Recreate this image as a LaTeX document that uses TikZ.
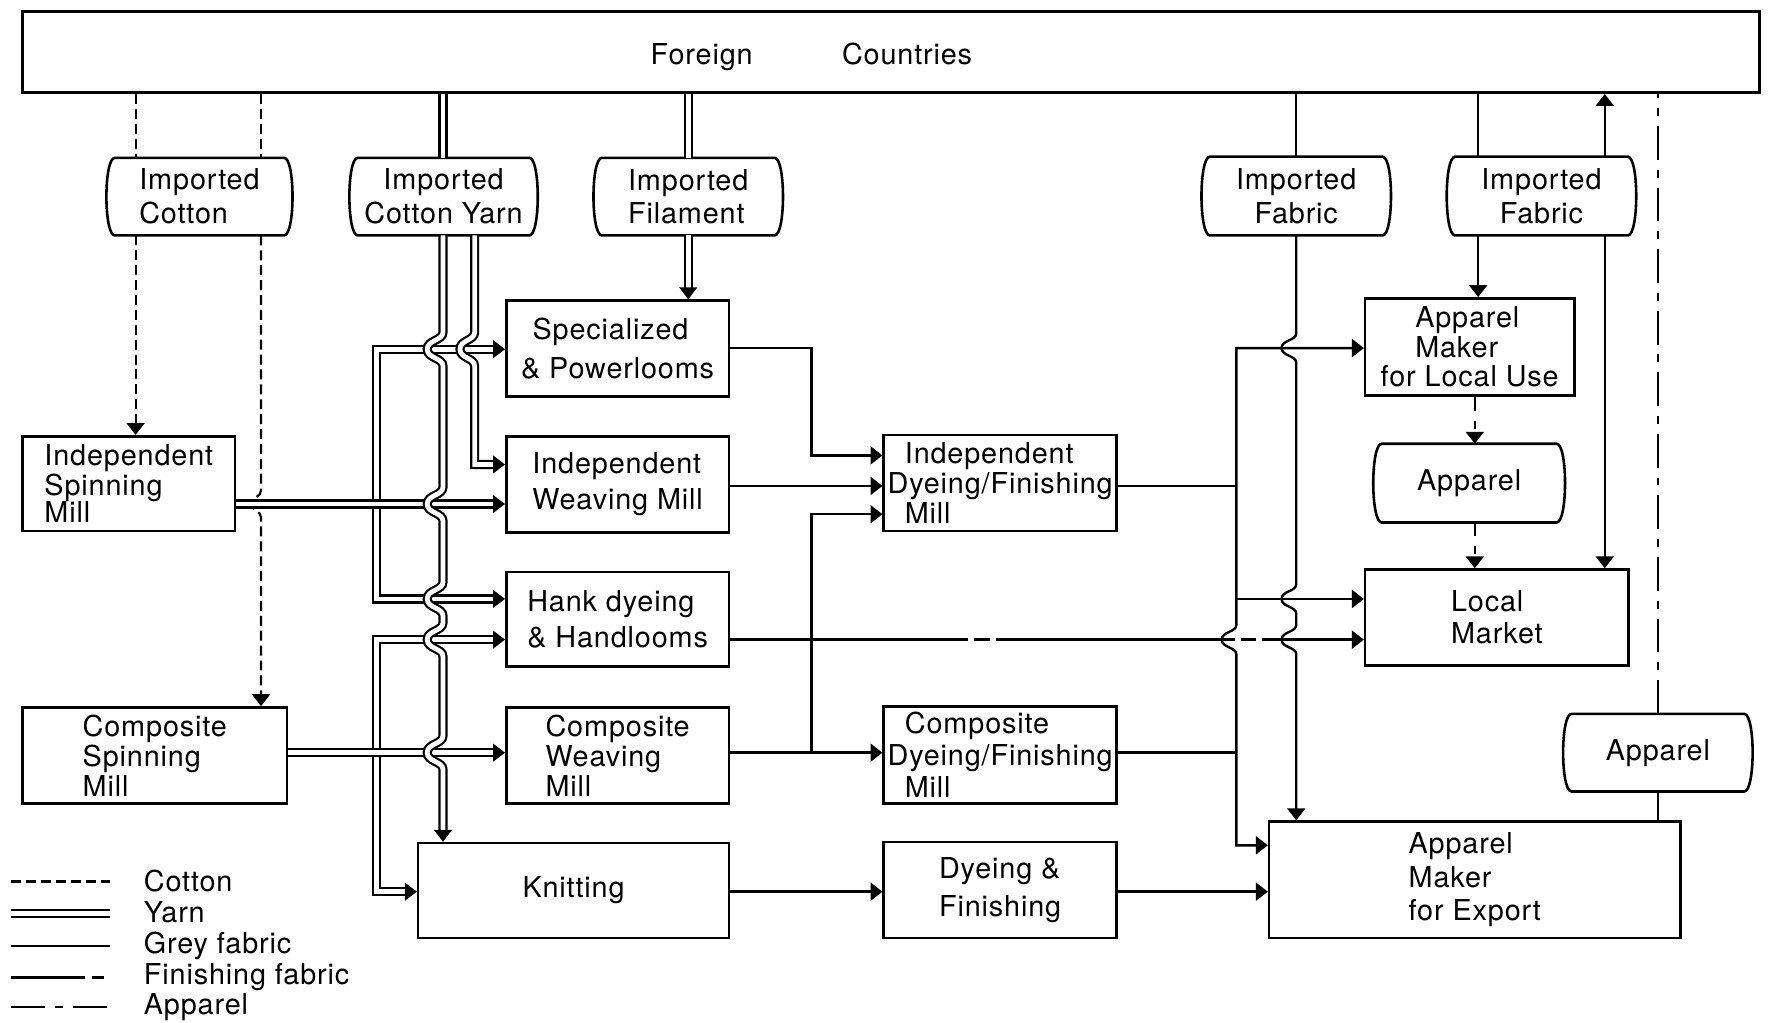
\documentclass[tikz,border=0pt]{standalone}
\usepackage{fontspec}
\setmainfont[LetterSpace=3]{TeX Gyre Heros}
\usetikzlibrary{arrows.meta}
\newcommand{\hopv}[4]{-- (#1,#2-#4) .. controls (#1,#2-0.5*#4) and (#1-#3,#2-0.55*#4) .. (#1-#3,#2) .. controls (#1-#3,#2+0.55*#4) and (#1,#2+0.5*#4) .. (#1,#2+#4)}
\newcommand{\mkbox}[6]{\pgfmathsetmacro{\myw}{(#4-#2)*0.02}\pgfmathsetmacro{\myh}{(#5-#3)*0.02}%
  \node[boxs, minimum width=\myw cm, minimum height=\myh cm] (#1) at ({(#2+#4)/2},{(#3+#5)/2}) {#6};}
\newcommand{\mkbarrel}[7]{\pgfmathsetmacro{\myw}{(#5-#3-14)*0.02}\pgfmathsetmacro{\myh}{(#6-#4)*0.02}%
  \node[labs, align=#2, minimum width=\myw cm, minimum height=\myh cm] (#1) at ({(#3+#5)/2},{(#4+#6)/2}) {#7};%
  \draw[line width=1.3pt] (#1.north west) -- (#1.north east)
    .. controls ([xshift=0.2cm]#1.north east) and ([xshift=0.2cm]#1.south east) .. (#1.south east)
    -- (#1.south west)
    .. controls ([xshift=-0.2cm]#1.south west) and ([xshift=-0.2cm]#1.north west) .. cycle;}
\begin{document}
\begin{tikzpicture}[x=0.02cm, y=-0.02cm,
  every node/.style={font=\fontsize{14.5}{15}\selectfont},
  boxs/.style={draw, line width=1.3pt, inner sep=1pt, align=left},
  labs/.style={inner sep=0pt, align=left},
  arr/.style={-{Triangle[length=6pt,width=9pt]}},
  arrs/.style={{Triangle[length=6pt,width=9pt]}-{Triangle[length=6pt,width=9pt]}},
  cotf/.style={line width=1.1pt, dash pattern=on 5pt off 2.5pt},
  yarnf/.style={double, double distance=2.4pt, line width=1.1pt},
  greyf/.style={line width=1.2pt},
  finf/.style={line width=1.2pt, dash pattern=on 37pt off 3.5pt on 6pt off 3.5pt},
  finlong/.style={line width=1.2pt, dash pattern=on 120pt off 3pt on 8pt off 3pt},
  appf/.style={line width=1.2pt, dash pattern=on 17pt off 5pt on 4pt off 5pt},
  tipR/.pic={\fill (0,0) -- (-10.5,-8) -- (-10.5,8) -- cycle;},
  tipD/.pic={\fill (0,0) -- (-8,-10.5) -- (8,-10.5) -- cycle;}]
\useasboundingbox (0,0) rectangle (1568,905);

% ---------- boxes ----------
\mkbox{FC}{20}{10}{1557}{82}{}
\node[labs] (FCt) at (718,50) {Foreign\hspace{45pt}Countries};
\mkbox{ISM}{20}{386}{208}{470}{Independent\\Spinning\\[-1.5pt]Mill}
\mkbox{CSM}{20}{626}{254}{711}{Composite\\Spinning\\Mill}
\mkbox{SP}{448}{266}{645}{351}{\hspace*{0.4em}Specialized\\[4.5pt]\& Powerlooms}
\mkbox{IWM}{448}{386}{645}{471}{Independent\\[3pt]Weaving Mill}
\mkbox{HK}{448}{506}{645}{590}{Hank dyeing\\[3pt]\& Handlooms}
\mkbox{CWM}{448}{626}{645}{711}{Composite\\Weaving\\Mill}
\mkbox{KN}{370}{746}{645}{830}{Knitting}
\mkbox{IDFM}{782}{385}{988}{470}{\hspace*{0.6em}Independent\\Dyeing/Finishing\\\hspace*{0.6em}Mill}
\mkbox{CDFM}{782}{625}{988}{711}{\hspace*{0.6em}Composite\\[1pt]Dyeing/Finishing\\[1pt]\hspace*{0.6em}Mill}
\mkbox{DF}{782}{745}{988}{830}{Dyeing \&\\[4pt]Finishing}
\mkbox{AL}{1208}{264}{1393}{350}{\hspace*{1.2em}Apparel\\\hspace*{1.2em}Maker\\for Local Use}
\mkbox{LM}{1208}{504}{1441}{589}{Local\\[1pt]Market}
\mkbox{AE}{1123}{727}{1487}{830}{Apparel\\[2pt]Maker\\[2pt]for Export}

% ---------- barrels ----------
\mkbarrel{IC}{left}{95}{140}{258}{208}{Imported\\[2pt]Cotton}
\mkbarrel{ICY}{center}{310}{140}{475}{208}{Imported\\[2pt]Cotton Yarn}
\mkbarrel{IF}{left}{526}{140}{692}{208}{Imported\\[2pt]Filament}
\mkbarrel{IFa}{center}{1064}{139}{1230}{208}{Imported\\[2pt]Fabric}
\mkbarrel{IFb}{center}{1281}{139}{1447}{208}{Imported\\[2pt]Fabric}
\mkbarrel{APa}{center}{1216}{393}{1384}{462}{Apparel}
\mkbarrel{APb}{center}{1384}{632}{1550}{700}{Apparel}

% ---------- cotton ----------
\draw[cotf] (120,0 |- FC.south) -- (120,0 |- IC.north);
\draw[cotf] (231,0 |- FC.south) -- (231,0 |- IC.north);
\draw[cotf, arr] (120,0 |- IC.south) -- (120,0 |- ISM.north);
\draw[cotf, arr] (231,0 |- IC.south) \hopv{231}{446}{8}{12} -- (231,0 |- CSM.north);

% ---------- yarn ----------
\draw[yarnf] (392,0 |- FC.south) -- (392,0 |- ICY.north);
\draw[yarnf] (609,0 |- FC.south) -- (609,0 |- IF.north);
\draw[yarnf, shorten >=4pt] (609,0 |- IF.south) -- (609,0 |- SP.north);
\draw[yarnf, shorten <=4pt, shorten >=4pt] (SP.west |- 0,309) -- (333,309) -- (333,530) -- (HK.west |- 0,530);
\draw[yarnf, shorten <=4pt, shorten >=4pt] (HK.west |- 0,566) -- (333,566) -- (333,789) -- (KN.west |- 0,789);
\draw[yarnf, shorten >=4pt] (ISM.east |- 0,446) -- (IWM.west |- 0,446);
\draw[yarnf, shorten >=4pt] (CSM.east |- 0,666) -- (CWM.west |- 0,666);
\draw[yarnf, shorten >=4pt] (392,0 |- ICY.south) \hopv{392}{309}{14}{15} \hopv{392}{446}{14}{15}
  \hopv{392}{530}{14}{15} \hopv{392}{566}{14}{15} \hopv{392}{666}{14}{15} -- (392,0 |- KN.north);
\draw[yarnf, shorten >=4pt] (420,0 |- ICY.south) \hopv{420}{309}{13}{15} -- (420,411) -- (IWM.west |- 0,411);
\pic at (SP.west |- 0,309) {tipR};
\pic at (IWM.west |- 0,411) {tipR};
\pic at (IWM.west |- 0,446) {tipR};
\pic at (HK.west |- 0,530) {tipR};
\pic at (HK.west |- 0,566) {tipR};
\pic at (CWM.west |- 0,666) {tipR};
\pic at (KN.west |- 0,789) {tipR};
\pic at (392,0 |- KN.north) {tipD};
\pic at (609,0 |- SP.north) {tipD};

% ---------- grey fabric ----------
\draw[greyf, arr] (SP.east |- 0,308) -- (718,308) -- (718,403) -- (IDFM.west |- 0,403);
\draw[greyf, arr] (IWM.east |- 0,430) -- (IDFM.west |- 0,430);
\draw[greyf, arr] (CWM.east |- 0,666) -- (CDFM.west |- 0,666);
\coordinate (J1) at (718,666);
\draw[greyf, arr] (J1) -- (718,455) -- (IDFM.west |- 0,455);
\draw[greyf, arr] (KN.east |- 0,789) -- (DF.west |- 0,789);

% ---------- finished fabric ----------
\draw[finlong, arr] (HK.east |- 0,566) -- (LM.west |- 0,566);
\coordinate (J2) at (1094,430);
\coordinate (J3) at (1094,666);
\coordinate (J4) at (1094,530);
\draw[greyf] (IDFM.east |- 0,430) -- (J2);
\draw[greyf] (CDFM.east |- 0,666) -- (J3);
\draw[greyf, arrs] (AL.west |- 0,308) -- (1094,308) \hopv{1094}{566}{13}{13} -- (1094,748) -- (AE.west |- 0,748);
\draw[greyf, arr] (J4) -- (LM.west |- 0,530);
\draw[greyf, arr] (DF.east |- 0,789) -- (AE.west |- 0,789);
\draw[greyf] (1147,0 |- FC.south) -- (1147,0 |- IFa.north);
\draw[greyf, arr] (1147,0 |- IFa.south) \hopv{1147}{308}{13}{13} \hopv{1147}{530}{13}{13}
  \hopv{1147}{566}{13}{13} -- (1147,0 |- AE.north);
\draw[greyf] (1308,0 |- FC.south) -- (1308,0 |- IFb.north);
\draw[greyf, arr] (1308,0 |- IFb.south) -- (1308,0 |- AL.north);
\draw[greyf, arr] (1420,0 |- IFb.north) -- (1420,0 |- FC.south);
\draw[greyf, arr] (1420,0 |- IFb.south) -- (1420,0 |- LM.north);

% ---------- apparel ----------
\draw[appf, dash phase=10pt, arr] (1305,0 |- AL.south) -- (1305,0 |- APa.north);
\draw[appf, dash phase=10pt, arr] (1305,0 |- APa.south) -- (1305,0 |- LM.north);
\draw[appf] (1467,0 |- AE.north) -- (1467,0 |- APb.south);
\draw[appf] (1467,0 |- APb.north) -- (1467,0 |- FC.south);

% ---------- legend ----------
\coordinate (LCa) at (10,780); \coordinate (LCb) at (97,780);
\coordinate (LYa) at (10,808); \coordinate (LYb) at (97,808);
\coordinate (LGa) at (10,837); \coordinate (LGb) at (97,837);
\coordinate (LFa) at (10,865); \coordinate (LFb) at (97,865);
\coordinate (LAa) at (10,891); \coordinate (LAb) at (97,891);
\draw[cotf] (LCa) -- (LCb);
\draw[yarnf] (LYa) -- (LYb);
\draw[greyf] (LGa) -- (LGb);
\draw[finf] (LFa) -- (LFb);
\draw[appf] (LAa) -- (LAb);
\node[labs, anchor=west] (LC) at (127,780) {Cotton};
\node[labs, anchor=west] (LY) at (127,807) {Yarn};
\node[labs, anchor=west] (LG) at (127,837) {Grey fabric};
\node[labs, anchor=west] (LF) at (127,865) {Finishing fabric};
\node[labs, anchor=west] (LA) at (127,891) {Apparel};
\end{tikzpicture}
\end{document}
